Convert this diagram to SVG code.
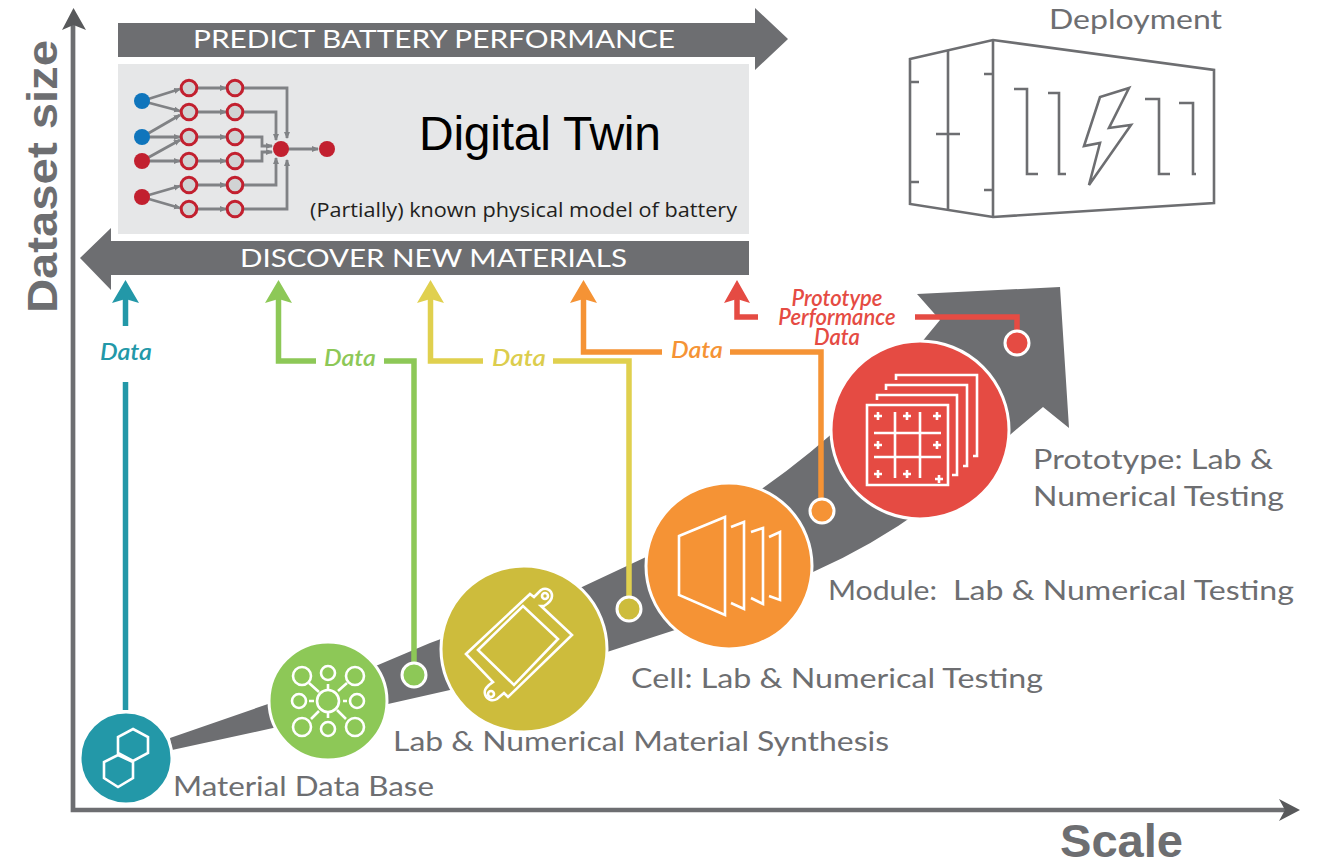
<svg xmlns="http://www.w3.org/2000/svg" xmlns:xlink="http://www.w3.org/1999/xlink" width="1317" height="861" viewBox="0 0 1317 861">
<style>
text{font-family:"Lato","Open Sans",sans-serif}
.lb{fill:#6d6e71;font-size:27px}
.ax{fill:#6d6e71;font-family:"Liberation Sans",Arial,sans-serif;font-weight:700}
.ban{fill:#fff;font-size:24.5px}
.d{font-size:22px;font-style:italic;font-weight:600;text-anchor:middle}
.ic{fill:none;stroke:#fff;stroke-width:2.6}
.ring{stroke:#fff;stroke-width:3}
.net{fill:none;stroke:#808285;stroke-width:2.8}
.nn{fill:#d1d3d4;stroke:#c2202f;stroke-width:3}
.dep{fill:none;stroke:#6d6e71;stroke-width:2.6}
</style>
<defs>
<marker id="nh" markerWidth="8" markerHeight="8" refX="6" refY="3" orient="auto" markerUnits="userSpaceOnUse"><path d="M0 0L7 3L0 6z" fill="#808285"/></marker>
<path id="pl" d="M-4 0H4M0-4V4" stroke="#fff" stroke-width="2.6" fill="none"/>
</defs>

<g id="axes" fill="none" stroke="#6d6e71" stroke-width="4.7">
<path d="M73 25V810H1288"/>
<path d="M73.5 8L62 30L73.500 25L86 30z" fill="#58595b" stroke="none"/>
<path d="M1300 810L1279 799L1285 810L1279 821z" fill="#58595b" stroke="none"/>
</g>
<text class="ax" font-size="43" transform="translate(57 313) rotate(-90)" textLength="273" lengthAdjust="spacingAndGlyphs">Dataset size</text>
<text class="ax" x="1060" y="857" font-size="46" textLength="123" lengthAdjust="spacingAndGlyphs">Scale</text>

<g id="predict-banner">
<path d="M118 23H755V8L788 39L755 70V57H118z" fill="#6d6e71"/>
<text class="ban" x="193" y="48" textLength="482" lengthAdjust="spacingAndGlyphs">PREDICT BATTERY PERFORMANCE</text>
</g>
<g id="digital-twin">
<rect x="118" y="64" width="631" height="170" fill="#e6e7e8"/>
<text x="419" y="150" font-size="48" fill="#000" style="font-family:'Liberation Sans',Arial,sans-serif" textLength="242">Digital Twin</text>
<text x="310" y="217" font-size="20" fill="#231f20" style="font-family:'Open Sans',sans-serif" textLength="427" lengthAdjust="spacingAndGlyphs">(Partially) known physical model of battery</text>
<g id="network">
<path class="net" marker-end="url(#nh)" d="M142 101L180 89"/>
<path class="net" marker-end="url(#nh)" d="M142 101L180 111"/>
<path class="net" marker-end="url(#nh)" d="M142 137L180 115"/>
<path class="net" marker-end="url(#nh)" d="M142 137H180"/>
<path class="net" marker-end="url(#nh)" d="M142 161L180 140"/>
<path class="net" marker-end="url(#nh)" d="M142 161H180"/>
<path class="net" marker-end="url(#nh)" d="M142 197L180 186"/>
<path class="net" marker-end="url(#nh)" d="M142 197L180 208"/>
<path class="net" marker-end="url(#nh)" d="M189 88H226"/>
<path class="net" marker-end="url(#nh)" d="M189 112H226"/>
<path class="net" marker-end="url(#nh)" d="M189 137H226"/>
<path class="net" marker-end="url(#nh)" d="M189 161H226"/>
<path class="net" marker-end="url(#nh)" d="M189 185H226"/>
<path class="net" marker-end="url(#nh)" d="M189 209H226"/>
<path class="net" marker-end="url(#nh)" d="M235 88H287V138"/>
<path class="net" marker-end="url(#nh)" d="M235 112H276V140"/>
<path class="net" marker-end="url(#nh)" d="M235 137H262V146H272"/>
<path class="net" marker-end="url(#nh)" d="M235 161H262V152H272"/>
<path class="net" marker-end="url(#nh)" d="M235 185H276V158"/>
<path class="net" marker-end="url(#nh)" d="M235 209H287V160"/>
<path class="net" marker-end="url(#nh)" d="M281 149H318"/>
<g class="nn">
<circle cx="189" cy="88" r="7.800"/><circle cx="189" cy="112" r="7.800"/><circle cx="189" cy="137" r="7.800"/><circle cx="189" cy="161" r="7.800"/><circle cx="189" cy="185" r="7.800"/><circle cx="189" cy="209" r="7.800"/>
<circle cx="235" cy="88" r="7.800"/><circle cx="235" cy="112" r="7.800"/><circle cx="235" cy="137" r="7.800"/><circle cx="235" cy="161" r="7.800"/><circle cx="235" cy="185" r="7.800"/><circle cx="235" cy="209" r="7.800"/>
</g>
<circle cx="142" cy="101" r="8" fill="#0f75bc"/><circle cx="142" cy="137" r="8" fill="#0f75bc"/>
<circle cx="142" cy="161" r="8" fill="#c2202f"/><circle cx="142" cy="197" r="8" fill="#c2202f"/>
<circle cx="281" cy="149" r="8" fill="#c2202f"/><circle cx="327" cy="149" r="8" fill="#c2202f"/>
</g>
</g>
<g id="discover-banner">
<path d="M749 241H111V228L80 258L111 290V275H749z" fill="#6d6e71"/>
<text class="ban" x="240" y="267" textLength="387" lengthAdjust="spacingAndGlyphs">DISCOVER NEW MATERIALS</text>
</g>

<g id="deployment">
<text class="lb" x="1049" y="29" textLength="173" lengthAdjust="spacingAndGlyphs">Deployment</text>
<path class="dep" d="M910 59L993 40L1214 70V203L993 217L910 204z"/>
<path class="dep" d="M948 51V210M993 40V217M910 82H919M910 182H919M984 74H993M984 190H993M936 134H960"/>
<path class="dep" d="M1014 89H1027V174H1038M1048 93H1059V174H1066M1145 99H1159V174H1170M1179 103H1193V174H1196"/>
<path class="dep" d="M1129 88L1100 97L1084 146L1100 143L1089 185L1131 125L1109 128z"/>
</g>

<g id="growth-arrow">
<path d="M170 738L268 704L378 665L430 643L582 587L646 557L763 488Q860 420 940 320L917 294L1060 287L1069 428L1043 407L1011 434Q920 525 813 572L675 630L607 652L450 690L388 704L273 728L172 750z" fill="#6d6e71"/>
</g>

<g id="connectors" fill="none" stroke-width="5.5">
<g stroke="#2398a8"><path d="M125.500 710V382M125.500 326V295"/><path d="M125.500 280L112 303L125.500 299L139 303z" fill="#2398a8" stroke="none"/></g>
<g stroke="#8dc857"><path d="M278.500 295V361H316M384 361H414V664"/><path d="M278.500 280L265 303L278.500 299L292 303z" fill="#8dc857" stroke="none"/></g>
<g stroke="#e0d04e"><path d="M430.500 295V361H483M553 361H629V598"/><path d="M430.500 280L417 303L430.500 299L444 303z" fill="#e0d04e" stroke="none"/></g>
<g stroke="#f59335"><path d="M583.500 295V352H662M730 352H821V500"/><path d="M583.500 280L570 303L583.500 299L597 303z" fill="#f59335" stroke="none"/></g>
<g stroke="#e54b43"><path d="M737 295V317H758M915 317H1017V332"/><path d="M737 280L724 303L737 299L750 303z" fill="#e54b43" stroke="none"/></g>
</g>
<g id="connector-labels">
<text class="d" x="126" y="360" fill="#2398a8" textLength="52" lengthAdjust="spacingAndGlyphs">Data</text>
<text class="d" x="350" y="366" fill="#8dc857" textLength="52" lengthAdjust="spacingAndGlyphs">Data</text>
<text class="d" x="519" y="366" fill="#dccd4d" textLength="54" lengthAdjust="spacingAndGlyphs">Data</text>
<text class="d" x="697" y="358" fill="#f59335" textLength="52" lengthAdjust="spacingAndGlyphs">Data</text>
<text class="d" fill="#e54b43"><tspan x="837" y="306">Prototype</tspan><tspan x="837" y="325">Performance</tspan><tspan x="837" y="345">Data</tspan></text>
</g>

<g id="material-db">
<circle class="ring" cx="126" cy="758" r="46" fill="#2398a8"/>
<path class="ic" d="M133 729L148 737V753L133 761L118 753V737zM118 755L133 762V778L118 787L104 778V762z"/>
<text class="lb" x="173" y="796" textLength="261" lengthAdjust="spacingAndGlyphs">Material Data Base</text>
</g>
<g id="synthesis">
<circle class="ring" cx="328" cy="701" r="59" fill="#8dc857"/>
<g class="ic"><circle cx="328" cy="701" r="11"/><circle cx="302" cy="676" r="9"/><circle cx="328" cy="673" r="7"/><circle cx="355" cy="676" r="9"/><circle cx="299" cy="701" r="7"/><circle cx="357" cy="701" r="7"/><circle cx="302" cy="727" r="9"/><circle cx="328" cy="729" r="7"/><circle cx="355" cy="727" r="9"/>
<path d="M309 683L319 692M338 691L347 683M319 711L311 719M337 710L346 719M328 684V689M328 713V718M309 701H314M343 701H347"/></g>
<text class="lb" x="393" y="751" textLength="496" lengthAdjust="spacingAndGlyphs">Lab &amp; Numerical Material Synthesis</text>
</g>
<g id="cell">
<circle class="ring" cx="524" cy="649" r="83" fill="#cdbc3c"/>
<path class="ic" d="M466 654L530 594L534 597L541 590C546 587 552 590 552 596C552 600 549 603 544 606L541 606L572 635L508 697L504 693L497 699C492 702 486 699 485 694C484 690 486 688 489 685L493 682z"/>
<path class="ic" d="M478 650L523 606L558 639L514 685z"/>
<circle class="ic" cx="545" cy="596" r="3"/><circle class="ic" cx="491" cy="694" r="3"/>
<text class="lb" x="631" y="688" textLength="412" lengthAdjust="spacingAndGlyphs">Cell: Lab &amp; Numerical Testing</text>
</g>
<g id="module">
<circle class="ring" cx="729" cy="566" r="83" fill="#f59335"/>
<path class="ic" d="M679 536L725 517V615L679 595zM731 527L744 522V609L731 603M751 532L763 528V604L751 598M769 537L780 532V600L769 596"/>
<text class="lb" x="828" y="600" textLength="109" lengthAdjust="spacingAndGlyphs">Module:</text>
<text class="lb" x="953" y="600" textLength="341" lengthAdjust="spacingAndGlyphs">Lab &amp; Numerical Testing</text>
</g>
<g id="prototype">
<circle class="ring" cx="920" cy="430" r="89" fill="#e54b43"/>
<path class="ic" d="M867 405H948V485H867zM877 400V395H957V475H952M886 390V385H967V466H963M896 380V375H977V456H973M895 412V478M920 412V478M874 433H941M874 457H941"/>
<use xlink:href="#pl" href="#pl" x="878" y="416"/><use xlink:href="#pl" href="#pl" x="907" y="416"/><use xlink:href="#pl" href="#pl" x="937" y="416"/>
<use xlink:href="#pl" href="#pl" x="878" y="445"/><use xlink:href="#pl" href="#pl" x="937" y="445"/>
<use xlink:href="#pl" href="#pl" x="878" y="474"/><use xlink:href="#pl" href="#pl" x="907" y="474"/><use xlink:href="#pl" href="#pl" x="939" y="479"/>
<text class="lb" x="1033" y="469" textLength="240" lengthAdjust="spacingAndGlyphs">Prototype: Lab &amp;</text>
<text class="lb" x="1033" y="506" textLength="251" lengthAdjust="spacingAndGlyphs">Numerical Testing</text>
</g>
<g id="ports" class="ring">
<circle cx="414" cy="675" r="12" fill="#8dc857"/>
<circle cx="629" cy="609" r="12" fill="#cdbc3c"/>
<circle cx="822" cy="511" r="12" fill="#f59335"/>
<circle cx="1017" cy="343" r="12" fill="#e54b43"/>
</g>
</svg>
